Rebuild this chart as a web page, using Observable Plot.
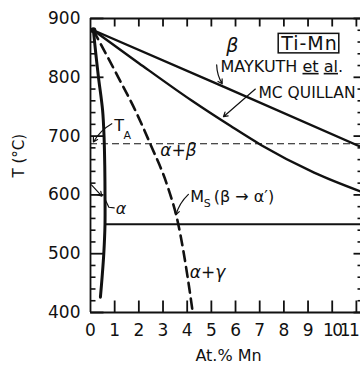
<!DOCTYPE html>
<html><head><meta charset="utf-8">
<script src="https://cdn.jsdelivr.net/npm/d3@7"></script>
<script src="https://cdn.jsdelivr.net/npm/@observablehq/plot@0.6"></script>
<style>html,body{margin:0;padding:0;background:#fff} svg{display:block}</style>
</head><body><div id="chart"></div>
<script>
// ---- tick values ----
const xTicks = [0,1,2,3,4,5,6,7,8,9,10,11];
const xInnerTicks = [1,2,3,4,5,6,7,8,9,10,11];
const yTicks = [400,500,600,700,800,900];
const yMinorTicks = [420,440,460,480,520,540,560,580,620,640,660,680,720,740,760,780,820,840,860,880];

// ---- curves (At.% Mn, T °C) ----
const alphaX = [0.12,0.22,0.33,0.5,0.56,0.59,0.6,0.6,0.55,0.48,0.41];
const alphaT = [880,840,800,744,700,650,600,550,500,460,426];
const msX = [0.12,1.15,1.85,2.47,3.2,3.6,4.07,4.23];
const msT = [880,800,744,687,613,556,446,400];
const maykuthX = [0.12,5.5,11.17];
const maykuthT = [880,784,682];
const mcquillanX = [0.12,2,4.2,5.8,7.05,9.25,11.17];
const mcquillanT = [880,824,760,717,685,638,606];
const taTemp = [687];
const eutectoidTemp = [550];
const eutectoidStart = 0.6;
const junction = [{x:0.12, t:880}];

// ---- annotations ----
const startLabels = [
  {x:5.38, t:818, text:"MAYKUTH et al.", size:16},
  {x:6.95, t:774, text:"MC QUILLAN", size:15.5},
  {x:4.13, t:597, text:"M", size:16},
  {x:5.1, t:597, text:"(β → α′)", size:16}
];
const middleLabels = [
  {x:1.19, t:717, text:"T", size:16},
  {x:1.52, t:701, text:"A", size:11},
  {x:4.83, t:585, text:"S", size:11}
];
const italicLabels = [
  {x:5.87, t:854, text:"β", size:19},
  {x:3.64, t:676, text:"α+β", size:17},
  {x:4.84, t:468, text:"α+γ", size:17},
  {x:1.26, t:577, text:"α", size:16}
];
const boxLabel = [{x:9.06, t:857, text:"Ti-Mn"}];
const straightLeaders = [
  {x1:6.82, t1:780, x2:5.5, t2:733},
  {x1:0.04, t1:617, x2:0.47, t2:598}
];
const bentLeaders = [
  {x1:5.22, t1:821, x2:5.45, t2:789},
  {x1:0.88, t1:721, x2:0.12, t2:690},
  {x1:4.05, t1:601, x2:3.53, t2:566}
];
const tailLines = [[{x:0.62,t:591},{x:0.76,t:579},{x:0.98,t:578}]];

const pts = (xs, ts) => xs.map((x, i) => ({x, t: ts[i]}));

const W = 360, H = 371, mL = 90, mR = 0, mT = 18, mB = 59;
const innerW = W - mL - mR, innerH = H - mT - mB;
const xMax = 11.17;
const ink = "#111";
const dX = px => px * xMax / innerW;      // pixel length -> data length (x)
const dT = px => px * 500 / innerH;       // pixel length -> data length (T)

const chart = Plot.plot({
  width: W, height: H,
  marginLeft: mL, marginRight: mR, marginTop: mT, marginBottom: mB,
  style: {fontFamily: "'DejaVu Sans', sans-serif", fontSize: "17px", background: "white", color: ink},
  x: {domain: [0, xMax], ticks: xTicks, tickSize: 0, tickPadding: 11, label: null, tickFormat: d => String(d)},
  y: {domain: [400, 900], ticks: yTicks, tickSize: 0, tickPadding: 10, label: null, tickFormat: d => String(d)},
  marks: [
    // T_A dashed line
    Plot.ruleY(taTemp, {stroke: ink, strokeWidth: 1.2, strokeDasharray: "7,4"}),
    // eutectoid line
    Plot.ruleY(eutectoidTemp, {x1: eutectoidStart, x2: xMax, stroke: ink, strokeWidth: 2}),
    // curves
    Plot.line(pts(maykuthX, maykuthT), {x: "x", y: "t", stroke: ink, strokeWidth: 2.4}),
    Plot.line(pts(mcquillanX, mcquillanT), {x: "x", y: "t", stroke: ink, strokeWidth: 2.4, curve: "monotone-x"}),
    Plot.line(pts(msX, msT), {x: "x", y: "t", stroke: ink, strokeWidth: 2.6, strokeDasharray: "10,6", curve: "monotone-x"}),
    Plot.line(pts(alphaX, alphaT), {x: "x", y: "t", stroke: ink, strokeWidth: 3, curve: "catmull-rom"}),
    Plot.dot(junction, {x: "x", y: "t", r: 3, fill: ink}),
    // leaders
    Plot.arrow(straightLeaders, {x1: "x1", y1: "t1", x2: "x2", y2: "t2", stroke: ink, strokeWidth: 1.2, headLength: 6}),
    Plot.arrow(bentLeaders, {x1: "x1", y1: "t1", x2: "x2", y2: "t2", bend: -15, stroke: ink, strokeWidth: 1.2, headLength: 6}),
    ...tailLines.map(l => Plot.line(l, {x: "x", y: "t", stroke: ink, strokeWidth: 1.2})),
    // labels
    Plot.text(startLabels, {x: "x", y: "t", text: "text", fontSize: d => d.size, textAnchor: "start", fill: ink}),
    Plot.text(middleLabels, {x: "x", y: "t", text: "text", fontSize: d => d.size, fill: ink}),
    Plot.text(italicLabels, {x: "x", y: "t", text: "text", fontSize: d => d.size, fontStyle: "italic", fill: ink}),
    Plot.text(boxLabel, {x: "x", y: "t", text: "text", fontSize: 19, fill: ink}),
    // axis titles
    Plot.text(["At.% Mn"], {frameAnchor: "bottom", dx: 3, dy: 48, text: d => d, fontSize: 16, fill: ink}),
    Plot.text(["T (°C)"], {frameAnchor: "left", dx: -71, dy: 12, rotate: -90, text: d => d, fontSize: 15, fill: ink}),
    // inward ticks (drawn last, on top)
    Plot.link(yTicks, {x1: 0, x2: dX(13), y1: d => d, y2: d => d, stroke: ink, strokeWidth: 1.8}),
    Plot.link(yMinorTicks, {x1: 0, x2: dX(5), y1: d => d, y2: d => d, stroke: ink, strokeWidth: 1.6}),
    Plot.link(yTicks, {x1: xMax - dX(7), x2: xMax, y1: d => d, y2: d => d, stroke: ink, strokeWidth: 1.8}),
    Plot.link(yMinorTicks, {x1: xMax - dX(3), x2: xMax, y1: d => d, y2: d => d, stroke: ink, strokeWidth: 1.6}),
    Plot.link(xInnerTicks, {x1: d => d, x2: d => d, y1: 400, y2: 400 + dT(12), stroke: ink, strokeWidth: 1.8}),
    Plot.link(xInnerTicks, {x1: d => d, x2: d => d, y1: 900 - dT(8), y2: 900, stroke: ink, strokeWidth: 1.8}),
    // frame sides
    Plot.ruleX([0], {stroke: ink, strokeWidth: 1.8}),
    Plot.ruleY([400, 900], {stroke: ink, strokeWidth: 1.8})
  ]
});
document.getElementById("chart").append(chart);

// post-process: underline "et" and "al", box around "Ti-Mn", keep "11" inside
d3.select(chart).selectAll("text").each(function() {
  const s = this.textContent;
  if (s === "MAYKUTH et al.") {
    const t = d3.select(this);
    t.text(null);
    t.append("tspan").text("MAYKUTH ");
    t.append("tspan").style("text-decoration", "underline").text("et");
    t.append("tspan").text(" ");
    t.append("tspan").style("text-decoration", "underline").text("al");
    t.append("tspan").text(".");
  } else if (s === "Ti-Mn") {
    this.setAttribute("letter-spacing", "1");
    const bb = this.getBBox();
    d3.select(this.parentNode).insert("rect", () => this)
      .attr("transform", this.getAttribute("transform"))
      .attr("x", bb.x - 2).attr("y", bb.y + 1.5)
      .attr("width", bb.width + 3).attr("height", bb.height - 2.5)
      .attr("fill", "none").attr("stroke", ink).attr("stroke-width", 1.5);
  } else if (s === "11" || s === "10") {
    this.setAttribute("letter-spacing", "-1.5");
    if (s === "11") { this.setAttribute("text-anchor", "end"); this.setAttribute("dx", "2"); }
  }
});
</script>
</body></html>
